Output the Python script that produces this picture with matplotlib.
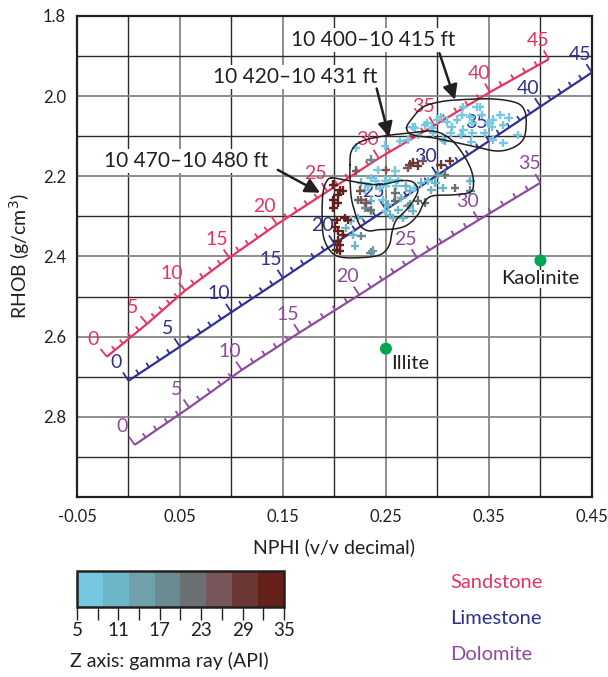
import numpy as np
import matplotlib
matplotlib.use("Agg")
import matplotlib.pyplot as plt
from matplotlib.colors import ListedColormap, BoundaryNorm
from matplotlib.cm import ScalarMappable
from matplotlib.ticker import FixedLocator

plt.rcParams['font.family'] = ['Lato', 'DejaVu Sans']
INK = '#231f20'

# lithology scales: porosity (p.u.) at the labelled ticks, NPHI / RHOB read there
por_major = [0, 5, 10, 15, 20, 25, 30, 35, 40, 45]
sand_nphi = [-0.021, 0.018, 0.055, 0.098, 0.144, 0.193, 0.243, 0.297, 0.351, 0.408]
sand_rhob = [2.650, 2.568, 2.485, 2.403, 2.320, 2.238, 2.155, 2.073, 1.990, 1.908]
lime_nphi = [0.0, 0.05, 0.10, 0.15, 0.20, 0.25, 0.30, 0.35, 0.40, 0.45]
lime_rhob = [2.710, 2.625, 2.539, 2.454, 2.368, 2.283, 2.197, 2.112, 2.026, 1.941]
dolo_nphi = [0.006, 0.059, 0.110, 0.166, 0.224, 0.280, 0.340, 0.400]
dolo_rhob = [2.870, 2.777, 2.683, 2.590, 2.496, 2.403, 2.309, 2.216]

lith_names = ['Sandstone', 'Limestone', 'Dolomite']
lith_colors = ['#e8335f', '#2e3192', '#8e4aa0']

# clay minerals
mineral_names = ['Illite', 'Kaolinite']
mineral_nphi = [0.25, 0.40]
mineral_rhob = [2.63, 2.41]

# log samples: 10 400-10 415 ft
zone1_nphi = [0.278, 0.288, 0.300, 0.303, 0.309, 0.314, 0.319, 0.324, 0.325, 0.332, 0.334, 0.341,
              0.343, 0.349, 0.353, 0.354, 0.361, 0.364, 0.369, 0.378, 0.364, 0.354, 0.346, 0.334,
              0.325, 0.305, 0.295, 0.276, 0.338, 0.313, 0.323, 0.333, 0.307, 0.290, 0.296]
zone1_rhob = [2.079, 2.072, 2.059, 2.052, 2.064, 2.077, 2.059, 2.047, 2.027, 2.052, 2.067, 2.027,
              2.047, 2.067, 2.077, 2.059, 2.047, 2.072, 2.054, 2.097, 2.117, 2.109, 2.092, 2.092,
              2.084, 2.109, 2.079, 2.077, 2.027, 2.092, 2.097, 2.114, 2.112, 2.067, 2.092]
zone1_gr = [6, 7, 6, 5, 7, 6, 5, 6, 7, 5, 6, 6, 7, 6, 5, 6, 8, 6, 7, 6, 7, 6, 8, 6,
            7, 6, 5, 7, 5, 8, 6, 7, 9, 6, 7]

# 10 420-10 431 ft
zone2_nphi = [0.221, 0.249, 0.264, 0.271, 0.281, 0.235, 0.259, 0.242, 0.235, 0.240, 0.249, 0.254,
              0.262, 0.269, 0.260, 0.250, 0.244, 0.233, 0.226, 0.230, 0.223, 0.235, 0.247, 0.252,
              0.259, 0.265, 0.273, 0.278, 0.284, 0.291, 0.298, 0.294, 0.305, 0.317, 0.332, 0.332,
              0.307, 0.301, 0.249, 0.254, 0.262, 0.271, 0.276, 0.267, 0.257, 0.235, 0.230, 0.223,
              0.216, 0.211, 0.218, 0.226, 0.220, 0.235, 0.237, 0.273, 0.281, 0.288, 0.259,
              0.273, 0.276, 0.271, 0.286, 0.281, 0.303, 0.312, 0.250, 0.221, 0.225, 0.226, 0.231,
              0.235]
zone2_rhob = [2.129, 2.124, 2.112, 2.109, 2.097, 2.159, 2.186, 2.184, 2.204, 2.211, 2.211, 2.209,
              2.209, 2.224, 2.224, 2.224, 2.229, 2.224, 2.216, 2.234, 2.259, 2.261, 2.259, 2.271,
              2.261, 2.254, 2.236, 2.229, 2.216, 2.211, 2.216, 2.234, 2.229, 2.229, 2.211, 2.236,
              2.196, 2.196, 2.286, 2.296, 2.284, 2.274, 2.286, 2.304, 2.304, 2.286, 2.279, 2.304,
              2.311, 2.329, 2.346, 2.349, 2.373, 2.391, 2.386, 2.271, 2.261, 2.266, 2.241,
              2.171, 2.166, 2.179, 2.162, 2.174, 2.171, 2.162, 2.184, 2.186, 2.236, 2.259, 2.266,
              2.284]
zone2_gr = [7, 6, 7, 6, 8, 19, 8, 7, 6, 7, 6, 8,
            7, 9, 7, 6, 8, 7, 9, 8, 21, 10, 8, 9,
            20, 12, 9, 7, 10, 8, 9, 11, 10, 20, 9, 17,
            21, 15, 8, 10, 9, 14, 12, 10, 9, 13, 19, 11,
            10, 9, 12, 18, 11, 17, 14, 16, 20, 22, 21,
            28, 29, 27, 26, 28, 29, 28, 25, 27, 26, 24, 25,
            23]

# 10 470-10 480 ft
zone3_nphi = [0.199, 0.205, 0.208, 0.203, 0.199, 0.203, 0.210, 0.202, 0.213, 0.203, 0.208, 0.203,
              0.202, 0.205, 0.199, 0.201, 0.205]
zone3_rhob = [2.221, 2.234, 2.236, 2.246, 2.259, 2.266, 2.304, 2.309, 2.309, 2.336, 2.346, 2.361,
              2.383, 2.386, 2.279, 2.326, 2.371]
zone3_gr = [33, 34, 32, 33, 34, 33, 32, 34, 33, 33, 32, 34, 33, 34, 33, 32, 33]

# hand-drawn outlines of the three depth intervals
outline1_nphi = [0.270, 0.276, 0.286, 0.303, 0.322, 0.354, 0.377, 0.385, 0.386, 0.383, 0.373, 0.358,
                 0.338, 0.315, 0.296, 0.276]
outline1_rhob = [2.079, 2.054, 2.027, 2.014, 2.009, 2.007, 2.017, 2.039, 2.077, 2.109, 2.129, 2.137,
                 2.127, 2.114, 2.104, 2.097]
outline2_nphi = [0.215, 0.217, 0.227, 0.249, 0.273, 0.295, 0.310, 0.322, 0.332, 0.335, 0.332, 0.317,
                 0.295, 0.287, 0.281, 0.271, 0.259, 0.244, 0.233, 0.225, 0.220, 0.216]
outline2_rhob = [2.171, 2.134, 2.112, 2.099, 2.092, 2.087, 2.102, 2.134, 2.179, 2.216, 2.239, 2.246,
                 2.249, 2.266, 2.296, 2.321, 2.331, 2.333, 2.336, 2.323, 2.291, 2.246]
outline3_nphi = [0.197, 0.210, 0.225, 0.244, 0.264, 0.276, 0.281, 0.277, 0.269, 0.260, 0.256, 0.253,
                 0.244, 0.225, 0.205, 0.195, 0.189, 0.188, 0.189, 0.192]
outline3_rhob = [2.204, 2.209, 2.216, 2.221, 2.211, 2.214, 2.234, 2.259, 2.286, 2.309, 2.338, 2.373,
                 2.396, 2.403, 2.401, 2.383, 2.346, 2.284, 2.239, 2.214]

zone_labels = ['10 400–10 415 ft', '10 420–10 431 ft', '10 470–10 480 ft']

gr_ticks = [5, 11, 17, 23, 29, 35]
gr_colors = ['#74c8df', '#6db6c7', '#70a0aa', '#6c8a91', '#6b7172', '#795658', '#6c3836', '#65201a']


def smooth_closed(x, y, n=10):
    # closed Catmull-Rom curve through the outline vertices
    p = np.column_stack([x, y])
    out = []
    m = len(p)
    t = np.linspace(0, 1, n, endpoint=False)[:, None]
    for i in range(m):
        p0, p1, p2, p3 = p[i - 1], p[i], p[(i + 1) % m], p[(i + 2) % m]
        seg = 0.5 * ((2 * p1) + (-p0 + p2) * t + (2 * p0 - 5 * p1 + 4 * p2 - p3) * t ** 2
                     + (-p0 + 3 * p1 - 3 * p2 + p3) * t ** 3)
        out.append(seg)
    out = np.vstack(out + [p[:1]])
    return out[:, 0], out[:, 1]


def draw_scale(ax, por, nphi, rhob, color):
    ax.plot(nphi, rhob, color=color, lw=1.6, zorder=3, solid_capstyle='butt')
    fine = np.arange(0, por[-1] + 1)
    pts = ax.transData.transform(np.column_stack([np.interp(fine, por, nphi),
                                                  np.interp(fine, por, rhob)]))
    back = ax.transData.inverted()
    d = np.gradient(pts, axis=0)
    d /= np.hypot(d[:, 0], d[:, 1])[:, None]
    normal = np.column_stack([-d[:, 1], d[:, 0]])
    for i, p in enumerate(fine):
        major = p % 5 == 0
        seg = back.transform([pts[i], pts[i] + normal[i] * (10 if major else 5)])
        ax.plot(seg[:, 0], seg[:, 1], color=color, lw=1.3, zorder=3, solid_capstyle='butt')
        if major:
            lx, ly = back.transform(pts[i] + normal[i] * 22)
            ax.text(lx, ly, str(int(p)), color=color, fontsize=14, ha='center', va='center',
                    zorder=4)


fig = plt.figure(figsize=(6.08, 6.77), dpi=100)
ax = fig.add_axes([0.1266, 0.2659, 0.847, 0.7105])
ax.set_xlim(-0.05, 0.45)
ax.set_ylim(3.0, 1.8)

ax.set_xticks(np.arange(-0.05, 0.46, 0.1))
ax.set_xticks(np.arange(0.0, 0.45, 0.1), minor=True)
ax.set_xticklabels(['-0.05', '0.05', '0.15', '0.25', '0.35', '0.45'])
ax.set_yticks(np.arange(1.8, 2.81, 0.2))
ax.set_yticks(np.arange(1.9, 3.0, 0.2), minor=True)
ax.set_yticklabels(['1.8', '2.0', '2.2', '2.4', '2.6', '2.8'])
ax.tick_params(which='both', length=0, labelsize=12, colors=INK)
ax.tick_params(axis='x', pad=9)
ax.tick_params(axis='y', pad=8)
ax.grid(which='major', color='#858585', lw=1.3, zorder=0)
ax.grid(which='minor', color='#2a2a2a', lw=1.0, zorder=0)
ax.set_axisbelow(True)
for s in ax.spines.values():
    s.set_linewidth(1.6)
    s.set_color(INK)

ax.set_xlabel('NPHI (v/v decimal)', fontsize=14, color=INK, labelpad=9)
ax.set_ylabel('RHOB (g/cm$^3$)', fontsize=14, color=INK, labelpad=8)

for por, nphi, rhob, col in zip([por_major, por_major, por_major[:8]],
                                [sand_nphi, lime_nphi, dolo_nphi],
                                [sand_rhob, lime_rhob, dolo_rhob], lith_colors):
    draw_scale(ax, por, nphi, rhob, col)

cmap = ListedColormap(gr_colors)
norm = BoundaryNorm(np.linspace(5, 35, len(gr_colors) + 1), cmap.N)
for nphi, rhob, gr in [(zone1_nphi, zone1_rhob, zone1_gr),
                       (zone2_nphi, zone2_rhob, zone2_gr),
                       (zone3_nphi, zone3_rhob, zone3_gr)]:
    ax.scatter(nphi, rhob, c=gr, cmap=cmap, norm=norm, marker='+', s=40, linewidths=1.7,
               zorder=5)

for nphi, rhob in [(outline1_nphi, outline1_rhob), (outline2_nphi, outline2_rhob),
                   (outline3_nphi, outline3_rhob)]:
    sx, sy = smooth_closed(nphi, rhob)
    ax.plot(sx, sy, color=INK, lw=1.1, zorder=6)

# depth labels and arrows
label_xy = [(0.238, 1.860), (0.162, 1.952), (0.056, 2.161)]
arrow_tail = [(0.302, 1.893), (0.241, 1.981), (0.145, 2.184)]
arrow_head = [(0.317, 2.009), (0.253, 2.102), (0.186, 2.241)]
for txt, (tx, ty), tail, head in zip(zone_labels, label_xy, arrow_tail, arrow_head):
    ax.text(tx, ty, txt, fontsize=15, color=INK, ha='center', va='center', zorder=7,
            bbox=dict(facecolor='white', edgecolor='none', pad=1.5))
    ax.annotate('', xy=head, xytext=tail, zorder=7,
                arrowprops=dict(arrowstyle='-|>', color=INK, lw=1.8, mutation_scale=22,
                                shrinkA=0, shrinkB=0))

ax.scatter(mineral_nphi, mineral_rhob, s=75, color='#00a651', zorder=6, edgecolors='none')
ax.text(mineral_nphi[0] + 0.005, mineral_rhob[0] + 0.015, mineral_names[0], fontsize=14.5,
        color=INK, ha='left', va='top', zorder=7)
ax.text(mineral_nphi[1], mineral_rhob[1] + 0.024, mineral_names[1], fontsize=14.5,
        color=INK, ha='center', va='top', zorder=7,
        bbox=dict(facecolor='white', edgecolor='none', pad=0.5))

# gamma ray colour bar
cax = fig.add_axes([0.1266, 0.1034, 0.3405, 0.0532])
cb = fig.colorbar(ScalarMappable(norm=norm, cmap=cmap), cax=cax, orientation='horizontal',
                  ticks=gr_ticks)
cb.outline.set_linewidth(1.8)
cb.outline.set_edgecolor(INK)
cax.xaxis.set_minor_locator(FixedLocator([8, 14, 20, 26, 32]))
cax.tick_params(which='both', length=9, width=1.0, color=INK, labelsize=13.5, labelcolor=INK,
                pad=2)
fig.text(0.115, 0.024, 'Z axis: gamma ray (API)', fontsize=14, color=INK, ha='left',
         va='center')

for i, (name, col) in enumerate(zip(lith_names, lith_colors)):
    fig.text(0.74, 0.140 - i * 0.0535, name, fontsize=14.5, color=col, ha='left', va='center')

fig.savefig('out.png', dpi=100)
